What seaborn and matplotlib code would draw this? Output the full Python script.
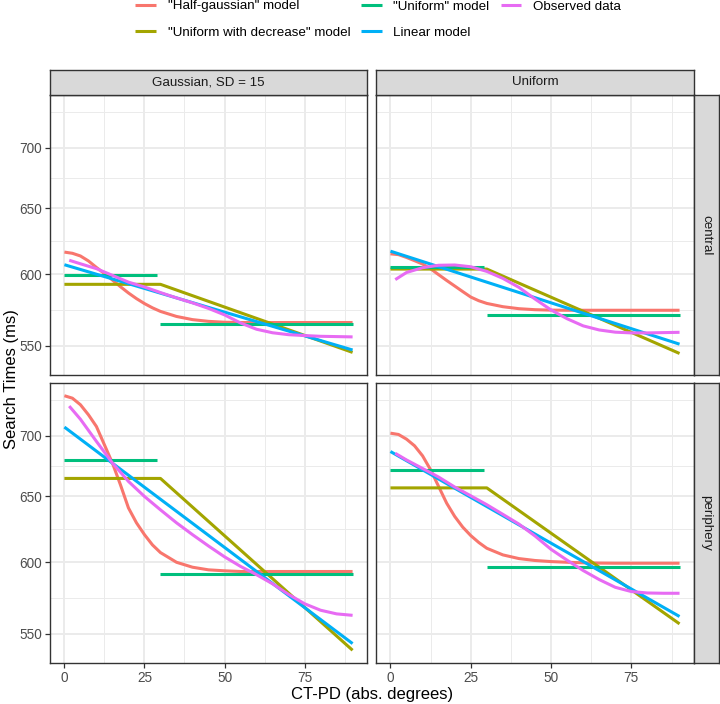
import numpy as np
import pandas as pd
import matplotlib
matplotlib.use("Agg")
import matplotlib.pyplot as plt
from matplotlib.lines import Line2D
from matplotlib.ticker import FixedLocator, FixedFormatter, NullFormatter
import seaborn as sns

# ---------------- data ----------------
col_labels = ["Gaussian, SD = 15", "Uniform"]
row_labels = ["central", "periphery"]
models = ['"Half-gaussian" model', '"Uniform with decrease" model',
          '"Uniform" model', 'Linear model', 'Observed data']
colors = ["#F8766D", "#A3A500", "#00BF7D", "#00B0F6", "#E76BF3"]

x_ticks = [0, 25, 50, 75]
y_ticks = [550, 600, 650, 700]

# "Half-gaussian" model curves
curve_x = [0, 2.5, 5, 7.5, 10, 12.5, 15, 17.5, 20, 22.5, 25, 27.5, 30,
           35, 40, 45, 50, 55, 60, 65, 70, 75, 80, 85, 90]
hg_gauss_central = [616.4, 615.5, 613.5, 609.8, 605.0, 600.5, 595.8, 591.0, 586.5, 582.5, 579.0, 576.0, 573.5,
                    570.0, 567.8, 566.6, 566.0, 565.8, 565.8, 565.8, 565.8, 565.8, 565.8, 565.8, 565.8]
hg_unif_central = [615.1, 614.5, 612.4, 610.0, 607.5, 604.0, 599.7, 595.5, 591.5, 587.5, 583.6, 581.0, 579.1,
                   576.8, 575.4, 574.7, 574.4, 574.3, 574.3, 574.3, 574.3, 574.3, 574.3, 574.3, 574.3]
hg_gauss_periph = [734.7, 732.5, 726.7, 717.9, 707.7, 692.1, 676.9, 659.3, 641.0, 629.5, 620.5, 612.8, 607.1,
                   600.0, 596.4, 594.5, 593.8, 593.3, 593.3, 593.3, 593.3, 593.3, 593.3, 593.3, 593.3]
hg_unif_periph = [702.0, 700.9, 696.9, 691.3, 682.9, 671.4, 657.9, 644.7, 634.4, 626.2, 619.8, 614.6, 610.3,
                  605.4, 602.7, 601.3, 600.5, 600.0, 599.6, 599.4, 599.3, 599.3, 599.3, 599.3, 599.3]

# "Uniform with decrease" model
dec_x = [0, 30, 90]
dec_gauss_central = [592.7, 592.7, 545.6]
dec_unif_central = [603.8, 603.8, 544.9]
dec_gauss_periph = [664.4, 664.4, 539.1]
dec_unif_periph = [656.8, 656.8, 556.7]

# "Uniform" model (two separate steps)
uni_x = [0, 29, 30, 90]
uni_seg = [0, 0, 1, 1]
uni_gauss_central = [599.4, 599.4, 565.1, 565.1]
uni_unif_central = [605.3, 605.3, 571.3, 571.3]
uni_gauss_periph = [679.1, 679.1, 591.7, 591.7]
uni_unif_periph = [670.9, 670.9, 596.9, 596.9]

# Linear model
lin_x = [0, 90]
lin_gauss_central = [607.0, 547.2]
lin_unif_central = [617.1, 551.1]
lin_gauss_periph = [707.2, 543.5]
lin_unif_periph = [686.5, 561.7]

# Observed data
obs_x = [1.5, 5, 10, 15, 20, 25, 30, 35, 40, 45, 50, 55, 60, 65, 70, 75, 80, 85, 90]
obs_gauss_central = [610.3, 607.7, 604.1, 599.2, 594.3, 590.8, 586.8, 583.0, 579.5, 575.6,
                     571.1, 565.5, 561.2, 558.8, 557.5, 556.9, 556.4, 556.2, 556.0]
obs_unif_central = [596.1, 601.3, 604.8, 606.6, 606.8, 605.5, 602.1, 597.0, 590.5, 582.2,
                    574.5, 568.4, 563.5, 560.7, 559.2, 558.7, 558.7, 558.9, 559.1]
obs_gauss_periph = [725.5, 714.0, 695.0, 677.0, 662.0, 650.0, 639.5, 629.5, 620.5, 612.0,
                    604.0, 597.0, 591.0, 584.5, 577.0, 570.5, 566.0, 563.5, 562.5]
obs_unif_periph = [685.0, 679.5, 672.5, 665.5, 657.5, 650.5, 643.5, 636.0, 628.5, 619.5,
                   609.5, 601.5, 594.0, 587.5, 582.0, 579.0, 578.0, 577.8, 577.8]

panel_data = {
    (0, 0): (hg_gauss_central, dec_gauss_central, uni_gauss_central, lin_gauss_central, obs_gauss_central),
    (0, 1): (hg_unif_central, dec_unif_central, uni_unif_central, lin_unif_central, obs_unif_central),
    (1, 0): (hg_gauss_periph, dec_gauss_periph, uni_gauss_periph, lin_gauss_periph, obs_gauss_periph),
    (1, 1): (hg_unif_periph, dec_unif_periph, uni_unif_periph, lin_unif_periph, obs_unif_periph),
}

frames = []
for (r, c), (hg, dec, uni, lin, obs) in panel_data.items():
    specs = [(models[0], curve_x, hg, 0), (models[1], dec_x, dec, 0),
             (models[2], uni_x, uni, uni_seg), (models[3], lin_x, lin, 0),
             (models[4], obs_x, obs, 0)]
    for name, xs, ys, seg in specs:
        frames.append(pd.DataFrame({"r": r, "c": c, "model": name, "seg": seg,
                                    "x": xs, "rt": ys}))
df = pd.concat(frames, ignore_index=True)

# ---------------- style ----------------
plt.rcParams['font.family'] = ['Liberation Sans', 'DejaVu Sans']
W, H = 720, 704
fig, axes = plt.subplots(2, 2, figsize=(W / 100, H / 100), dpi=100, sharex=True, sharey=True)


def rect(l, t, r, b):
    return [l / W, 1 - b / H, (r - l) / W, (b - t) / H]


panel_px = {(0, 0): (50, 95, 367, 375), (0, 1): (376, 95, 694, 375),
            (1, 0): (50, 383, 367, 663), (1, 1): (376, 383, 694, 663)}

# limits (ggplot-style 5% expansion, in log space for y)
lo, hi = np.log(df["rt"].min()), np.log(df["rt"].max())
ylim = (np.exp(lo - 0.05 * (hi - lo)), np.exp(hi + 0.05 * (hi - lo)))
xmin, xmax = df["x"].min(), df["x"].max()
xlim = (xmin - 0.05 * (xmax - xmin), xmax + 0.05 * (xmax - xmin))

r_step = y_ticks[1] / y_ticks[0]
ext = [y_ticks[0] / r_step] + y_ticks + [y_ticks[-1] * r_step]
minor_y = [np.sqrt(ext[i] * ext[i + 1]) for i in range(len(ext) - 1)]
xs_step = x_ticks[1] - x_ticks[0]
minor_x = [t + xs_step / 2 for t in x_ticks]

for (r, c), ax in np.ndenumerate(axes):
    ax.set_position(rect(*panel_px[(r, c)]))
    sub = df[(df["r"] == r) & (df["c"] == c)]
    sns.lineplot(data=sub, x="x", y="rt", hue="model", hue_order=models, palette=colors,
                 units="seg", estimator=None, sort=False, legend=False,
                 linewidth=2.2, solid_capstyle="butt", ax=ax)
    ax.set_yscale("log")
    ax.set_xlim(*xlim)
    ax.set_ylim(*ylim)
    ax.yaxis.set_major_locator(FixedLocator(y_ticks))
    ax.yaxis.set_major_formatter(FixedFormatter([str(t) for t in y_ticks]))
    ax.yaxis.set_minor_locator(FixedLocator(minor_y))
    ax.yaxis.set_minor_formatter(NullFormatter())
    ax.xaxis.set_major_locator(FixedLocator(x_ticks))
    ax.xaxis.set_major_formatter(FixedFormatter([str(t) for t in x_ticks]))
    ax.xaxis.set_minor_locator(FixedLocator(minor_x))
    ax.xaxis.set_minor_formatter(NullFormatter())
    ax.set_xlabel("")
    ax.set_ylabel("")
    ax.set_facecolor("white")
    ax.set_axisbelow(True)
    ax.grid(which="major", color="#EBEBEB", linewidth=1.4)
    ax.grid(which="minor", color="#EBEBEB", linewidth=0.7)
    for s in ax.spines.values():
        s.set_color("#333333")
        s.set_linewidth(1.0)
    ax.tick_params(which="major", length=3.6, width=0.9, color="#333333", pad=2.2,
                   labelsize=9.8, labelcolor="#4D4D4D")
    ax.tick_params(which="minor", length=0)
    ax.tick_params(axis="x", labelbottom=(r == 1))
    ax.tick_params(axis="y", labelleft=(c == 0))
    if r == 0:
        ax.tick_params(axis="x", which="both", length=0)
    if c == 1:
        ax.tick_params(axis="y", which="both", length=0)

# strips
strip_specs = [((50, 69.5, 367, 95), col_labels[0], 0), ((376, 69.5, 694, 95), col_labels[1], 0),
               ((694, 95, 718.5, 375), row_labels[0], -90), ((694, 383, 718.5, 663), row_labels[1], -90)]
for (l, t, rr, b), lab, rot in strip_specs:
    sa = fig.add_axes(rect(l, t, rr, b))
    sa.set_facecolor("#D9D9D9")
    sa.set_xticks([])
    sa.set_yticks([])
    for s in sa.spines.values():
        s.set_color("#333333")
        s.set_linewidth(1.0)
    sa.text(0.5, 0.5, lab, transform=sa.transAxes, ha="center", va="center",
            rotation=rot, fontsize=9.6, color="#1A1A1A")

# axis titles
fig.text(372 / W, 1 - 694 / H, "CT-PD (abs. degrees)", ha="center", va="center", fontsize=12)
fig.text(12 / W, 1 - 379 / H, "Search Times (ms)", ha="center", va="center",
         rotation=90, fontsize=12)

# legend
handles = [Line2D([0], [0], color=col, linewidth=2.2, solid_capstyle="butt") for col in colors]
fig.legend(handles, models, ncol=3, loc="center left", bbox_to_anchor=(135.4 / W, 1 - 19.5 / H),
           frameon=False, fontsize=9.6, handlelength=1.55, handletextpad=0.86,
           columnspacing=0.83, labelspacing=1.05, borderpad=0, borderaxespad=0)

fig.savefig("out.png", dpi=100)
